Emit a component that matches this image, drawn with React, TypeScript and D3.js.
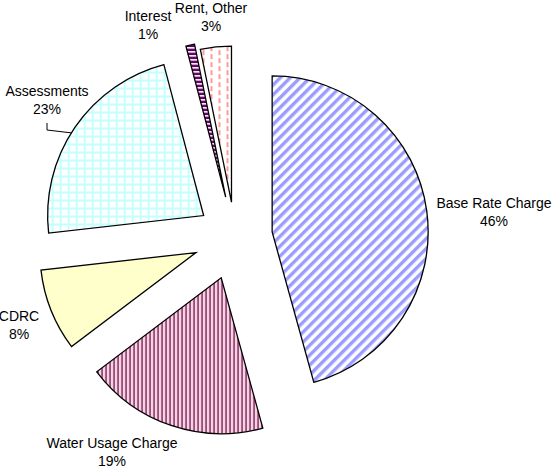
import React from "react";
import * as d3 from "d3";

// slice data (percent of revenue), clockwise from 12 o'clock
const categories = ["Base Rate Charge", "Water Usage Charge", "CDRC", "Assessments", "Interest", "Rent, Other"];
const values = [45.7, 19.0, 8.5, 22.7, 0.9, 3.2];
const percentLabels = ["46%", "19%", "8%", "23%", "1%", "3%"];
// how far each slice is pulled out of the pie
const explode = [37.5, 43, 42, 38, 41, 35];

const WIDTH = 554;
const HEIGHT = 468;
const CX = 235;
const CY = 237;
const RADIUS = 156;

// label centre (x, y of first line)
const labelPos: [number, number][] = [
    [494, 203],
    [112, 443],
    [19, 316],
    [47, 91],
    [148, 16],
    [211, 8],
];

const fills = [
    "url(#pBase)",
    "url(#pWater)",
    "#FFFFCC",
    "url(#pAssess)",
    "url(#pInterest)",
    "url(#pRent)",
];

const App = () => {
    const pie = d3.pie<number>().sort(null).startAngle(0).endAngle(2 * Math.PI);
    const arcs = pie(values);
    const arcGen = d3.arc<d3.PieArcDatum<number>>().innerRadius(0).outerRadius(RADIUS);

    const offset = (a: d3.PieArcDatum<number>, i: number) => {
        const mid = (a.startAngle + a.endAngle) / 2;
        return [explode[i] * Math.sin(mid), -explode[i] * Math.cos(mid)];
    };

    // leader line for Assessments
    const assessIdx = 3;
    const [ax, ay] = offset(arcs[assessIdx], assessIdx);
    const leaderAngle = (302 * Math.PI) / 180;
    const lx = CX + ax + RADIUS * Math.sin(leaderAngle);
    const ly = CY + ay - RADIUS * Math.cos(leaderAngle);

    return (
        <svg width={WIDTH} height={HEIGHT} style={{position: "absolute", left: 0, top: 0}}>
            <defs>
                <pattern id="pBase" width={7} height={7} patternUnits="userSpaceOnUse" patternTransform="rotate(45)">
                    <rect width={7} height={7} fill="#fff" />
                    <rect x={0} width={3.4} height={7} fill="#9c9cff" />
                </pattern>
                <pattern id="pWater" width={4} height={4} patternUnits="userSpaceOnUse">
                    <rect width={4} height={4} fill="#ecc8da" />
                    <rect x={0} width={2} height={4} fill="#a3497c" />
                    <rect x={2} width={1} height={4} fill="#ffffff" />
                </pattern>
                <pattern id="pAssess" width={8} height={8} patternUnits="userSpaceOnUse">
                    <rect width={8} height={8} fill="#c4ffff" />
                    <rect x={2} y={2} width={6} height={6} fill="#fff" />
                </pattern>
                <pattern id="pInterest" width={4} height={4} patternUnits="userSpaceOnUse">
                    <rect width={4} height={4} fill="#660066" />
                    <rect y={2} width={4} height={1.6} fill="#fff" />
                </pattern>
                <pattern id="pRent" width={16} height={8} patternUnits="userSpaceOnUse">
                    <rect width={16} height={8} fill="#fff" />
                    <rect x={3} y={0} width={2} height={5} fill="#FF9999" />
                    <rect x={11} y={4} width={2} height={4} fill="#FF9999" />
                    <rect x={11} y={0} width={2} height={1} fill="#FF9999" />
                </pattern>
            </defs>
            <g transform={"translate(" + CX + "," + CY + ")"}>
                {arcs.map((a, i) => {
                    const [dx, dy] = offset(a, i);
                    return (
                        <path
                            key={i}
                            d={arcGen(a) || ""}
                            transform={"translate(" + dx + "," + dy + ")"}
                            fill={fills[i]}
                            stroke="#000"
                            strokeWidth={1.3}
                            strokeLinejoin="miter"
                        />
                    );
                })}
            </g>
            <polyline
                points={"47,123 47,130 " + lx + "," + ly}
                fill="none"
                stroke="#000"
                strokeWidth={1}
            />
            <g fontFamily="Liberation Sans, Arial, sans-serif" fontSize={14} fill="#000" textAnchor="middle">
                {categories.map((c, i) => (
                    <text key={i} x={labelPos[i][0]} y={labelPos[i][1] + 5}>
                        {c}
                        <tspan x={labelPos[i][0]} dy={18}>{percentLabels[i]}</tspan>
                    </text>
                ))}
            </g>
        </svg>
    );
};

export default App;
